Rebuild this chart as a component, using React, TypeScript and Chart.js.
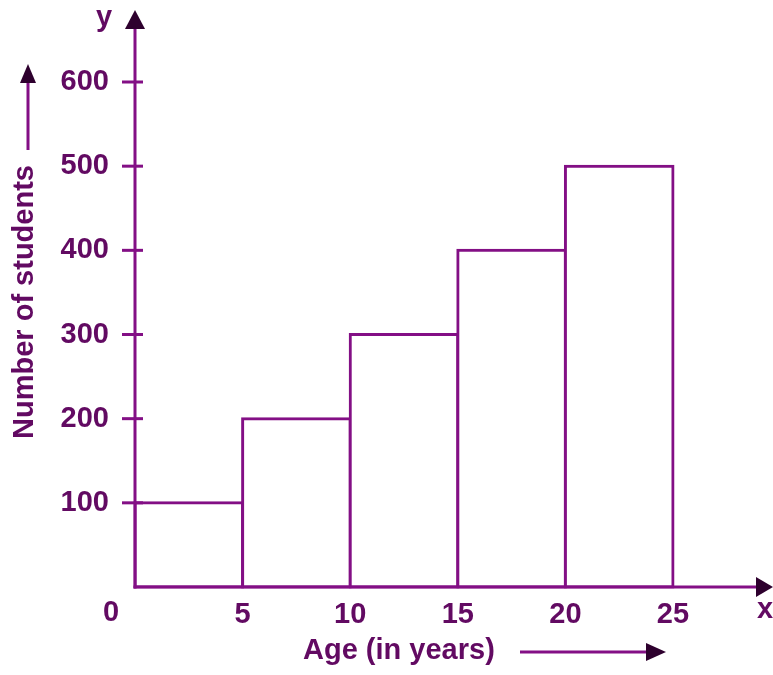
import { useEffect, useRef } from "react";
import { Chart, registerables } from "chart.js";

Chart.register(...registerables);

// ---- data ----
const ageBinLabels = ["0-5", "5-10", "10-15", "15-20", "20-25"];
const ageBinMidpoints = [2.5, 7.5, 12.5, 17.5, 22.5];
const studentCounts = [100, 200, 300, 400, 500];
const xTickValues = [0, 5, 10, 15, 20, 25];
const yTickValues = [0, 100, 200, 300, 400, 500, 600];
const xAxisTitle = "Age (in years)";
const yAxisTitle = "Number of students";

export default function App() {
  const ref = useRef<HTMLCanvasElement>(null);

  useEffect(() => {
    document.body.style.margin = "0";
    const FONT = "'Liberation Sans', Arial, Helvetica, sans-serif";
    const LINE = "#830f85";
    const TEXT = "#620a62";
    const HEAD = "#2e002e";
    const tickFont = { family: FONT, size: 29, weight: "bold" as const };

    const plugin = {
      id: "axesArrows",
      afterDraw(chart: any) {
        const { ctx } = chart;
        const xs = chart.scales.x;
        const ys = chart.scales.y;
        const x0 = xs.getPixelForValue(0);
        const y0 = ys.getPixelForValue(0);
        ctx.save();
        ctx.strokeStyle = LINE;
        ctx.lineWidth = 3;
        ctx.lineCap = "butt";
        const line = (a: number, b: number, c: number, d: number) => {
          ctx.beginPath();
          ctx.moveTo(a, b);
          ctx.lineTo(c, d);
          ctx.stroke();
        };
        const tri = (p: number[][]) => {
          ctx.fillStyle = HEAD;
          ctx.beginPath();
          ctx.moveTo(p[0][0], p[0][1]);
          ctx.lineTo(p[1][0], p[1][1]);
          ctx.lineTo(p[2][0], p[2][1]);
          ctx.closePath();
          ctx.fill();
        };
        // x axis
        line(x0 - 1.5, y0, 760, y0);
        tri([[773, y0], [756, y0 - 10], [756, y0 + 10]]);
        // y axis
        line(x0, y0 + 1.5, x0, 26);
        tri([[x0, 10], [x0 - 10, 29], [x0 + 10, 29]]);
        // y tick marks
        yTickValues.forEach((v) => {
          if (v === 0) return;
          const y = ys.getPixelForValue(v);
          line(x0 - 13, y, x0 + 8, y);
        });

        // texts
        ctx.fillStyle = TEXT;
        ctx.font = `bold 29px ${FONT}`;
        ctx.textBaseline = "middle";
        ctx.textAlign = "center";
        ctx.fillText("0", 111, 613);
        ctx.fillText("y", 104, 18);
        ctx.fillText("x", 765, 610);

        ctx.textAlign = "left";
        ctx.fillText(xAxisTitle, 303, 651);
        line(520, 652, 650, 652);
        tri([[666, 652], [646, 643], [646, 661]]);

        ctx.save();
        ctx.translate(25, 302);
        ctx.rotate(-Math.PI / 2);
        ctx.textAlign = "center";
        ctx.fillStyle = TEXT;
        ctx.fillText(yAxisTitle, 0, 0);
        ctx.restore();
        line(28, 150, 28, 80);
        tri([[28, 64], [20, 83], [36, 83]]);
        ctx.restore();
      },
    };

    const chart = new Chart(ref.current!, {
      type: "bar",
      data: {
        labels: ageBinLabels,
        datasets: [
          {
            data: ageBinMidpoints.map((x, i) => ({ x, y: studentCounts[i] })),
            backgroundColor: "#ffffff",
            borderColor: LINE,
            borderWidth: 3,
            inflateAmount: 1.5,
            borderSkipped: false,
            barPercentage: 1,
            categoryPercentage: 1,
            clip: false,
          } as any,
        ],
      },
      options: {
        animation: false,
        responsive: false,
        layout: { padding: { left: 0, top: 82, right: 100, bottom: 0 } },
        plugins: { legend: { display: false }, tooltip: { enabled: false }, title: { display: false } },
        scales: {
          x: {
            type: "linear",
            offset: false,
            min: 0,
            max: 25,
            afterBuildTicks: (s: any) => {
              s.ticks = xTickValues.map((v) => ({ value: v }));
            },
            afterFit: (s: any) => {
              s.height = 88;
            },
            grid: { display: false, drawTicks: false, offset: false },
            border: { display: false },
            ticks: {
              padding: 11,
              color: TEXT,
              font: tickFont,
              maxRotation: 0,
              autoSkip: false,
              callback: (v: any) => (v === 0 ? "" : String(v)),
            },
          },
          y: {
            type: "linear",
            min: 0,
            max: 600,
            afterBuildTicks: (s: any) => {
              s.ticks = yTickValues.map((v) => ({ value: v }));
            },
            afterFit: (s: any) => {
              s.width = 135;
            },
            grid: { display: false, drawTicks: false },
            border: { display: false },
            ticks: {
              padding: 26,
              color: TEXT,
              font: tickFont,
              autoSkip: false,
              callback: (v: any) => (v === 0 ? "" : String(v)),
            },
          },
        },
      } as any,
      plugins: [plugin],
    });
    return () => chart.destroy();
  }, []);

  return <canvas ref={ref} width={773} height={675} style={{ display: "block" }} />;
}
